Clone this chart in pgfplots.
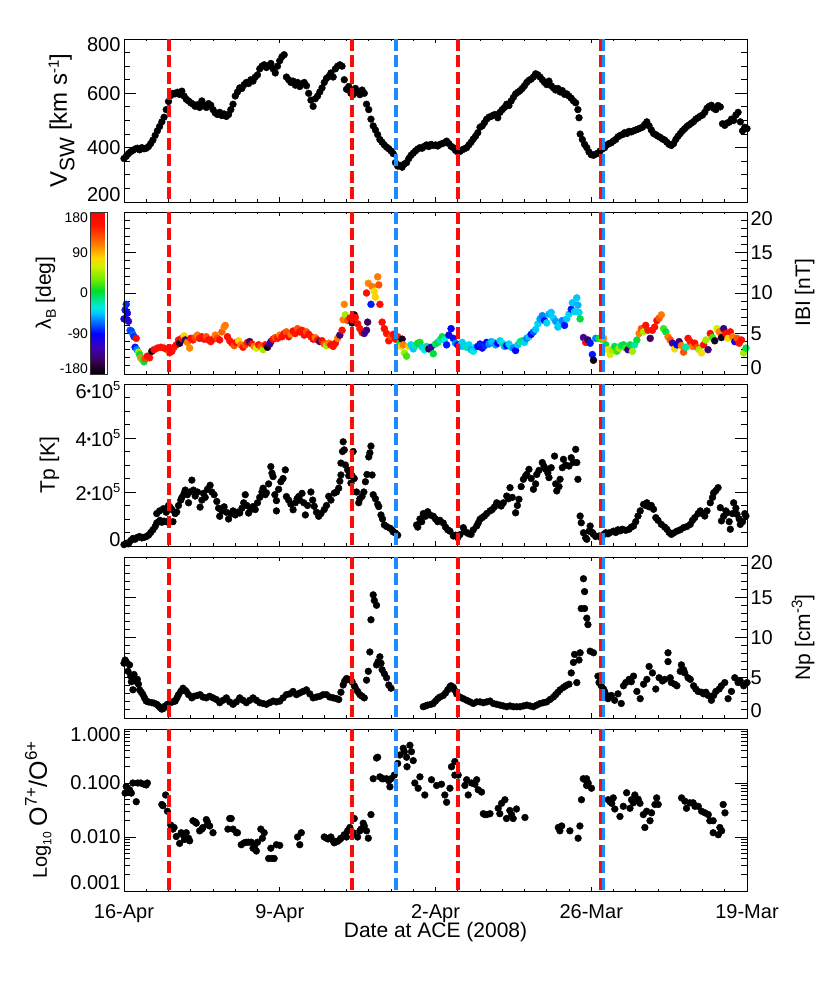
\documentclass[border=0pt]{standalone}
\usepackage{fontspec}
\setmainfont{Liberation Sans}
\usepackage{pgfplots}
\usepackage{pgfplotstable}
\pgfplotsset{compat=1.18}
\definecolor{vr}{RGB}{255,10,10}
\definecolor{vb}{RGB}{25,140,255}
\newcommand{\up}[2]{\raisebox{#1}[\height][\depth]{#2}}
\newcommand{\fs}[1]{\fontsize{#1}{#1}\selectfont}
\newcommand{\sx}[3]{\raisebox{#1}{\fs{#2}#3}}
\newcommand{\tpl}[1]{#1\raisebox{3pt}{\fs{12}•}10\sx{8pt}{13}{5}}

\pgfplotstableread{
d v
0.0 360
0.1 368
0.2 378
0.3 385
0.4 390
0.5 395
0.6 398
0.7 392
0.8 400
0.9 396
1.0 398
1.1 404
1.2 415
1.3 428
1.4 445
1.5 462
1.6 478
1.7 495
1.8 512
1.9 540
2.0 570
2.1 592
2.2 600
2.3 598
2.4 604
2.5 596
2.6 608
2.7 590
2.8 578
2.9 572
3.0 565
3.1 560
3.2 552
3.3 558
3.4 548
3.5 572
3.6 556
3.7 548
3.8 562
3.9 556
4.0 540
4.1 528
4.2 522
4.3 530
4.4 518
4.5 524
4.6 515
4.7 522
4.8 540
4.9 560
5.0 590
5.1 605
5.2 620
5.3 618
5.4 632
5.5 640
5.6 636
5.7 650
5.8 645
5.9 660
6.0 668
6.1 690
6.2 700
6.3 705
6.4 695
6.5 702
6.6 710
6.7 690
6.8 675
6.9 700
7.0 720
7.1 735
7.2 742
7.3 660
7.4 650
7.5 640
7.6 645
7.7 630
7.8 640
7.9 625
8.0 635
8.1 640
8.2 628
8.3 600
8.4 575
8.5 552
8.6 580
8.7 590
8.8 605
8.9 620
9.0 640
9.1 655
9.2 662
9.3 675
9.4 660
9.5 690
9.6 700
9.7 705
9.8 700
9.9 650
10.0 615
10.1 625
10.2 600
10.3 595
10.4 618
10.5 605
10.6 595
10.7 612
10.8 600
10.9 560
11.0 540
11.1 505
11.2 480
11.3 465
11.4 448
11.5 430
11.6 420
11.7 410
11.8 402
11.9 396
12.0 388
12.1 378
12.2 345
12.3 332
12.4 335
12.5 328
12.6 340
12.7 345
12.8 360
12.9 372
13.0 380
13.1 388
13.2 395
13.3 400
13.4 398
13.5 405
13.6 410
13.7 404
13.8 412
13.9 408
14.0 410
14.1 406
14.2 412
14.3 415
14.4 418
14.5 424
14.6 415
14.7 405
14.8 400
14.9 390
15.0 384
15.1 386
15.2 392
15.3 396
15.4 400
15.5 410
15.6 420
15.7 432
15.8 442
15.9 455
16.0 475
16.1 480
16.2 492
16.3 505
16.4 512
16.5 515
16.6 520
16.7 522
16.8 510
16.9 530
17.0 540
17.1 548
17.2 560
17.3 555
17.4 572
17.5 585
17.6 598
17.7 604
17.8 610
17.9 618
18.0 628
18.1 640
18.2 648
18.3 652
18.4 660
18.5 672
18.6 668
18.7 660
18.8 650
18.9 640
19.0 632
19.1 645
19.2 628
19.3 620
19.4 612
19.5 618
19.6 605
19.7 610
19.8 596
19.9 598
20.0 590
20.1 582
20.2 572
20.3 565
20.4 540
20.45 510
20.5 450
20.6 430
20.7 412
20.8 400
20.9 384
21.0 374
21.1 372
21.2 376
21.3 380
21.4 388
21.5 395
21.6 400
21.7 410
21.8 415
21.9 418
22.0 425
22.1 430
22.2 440
22.3 445
22.4 448
22.5 455
22.6 452
22.7 460
22.8 458
22.9 462
23.0 465
23.1 468
23.2 472
23.3 475
23.4 485
23.5 495
23.6 480
23.7 465
23.8 452
23.9 448
24.0 442
24.1 438
24.2 432
24.3 428
24.4 420
24.5 412
24.6 408
24.7 415
24.8 430
24.9 442
25.0 452
25.1 462
25.2 470
25.3 478
25.4 484
25.5 490
25.6 496
25.7 505
25.8 510
25.9 516
26.0 520
26.1 530
26.2 545
26.3 552
26.4 556
26.5 545
26.6 540
26.7 555
26.8 550
26.9 488
27.0 482
27.1 490
27.2 494
27.3 505
27.4 500
27.5 520
27.6 530
27.7 495
27.8 462
27.9 475
28.0 470
}\tvsw

\pgfplotstableread{
d b l
0.0 6.8 -100
0.05 7.9 -85
0.1 8.6 -80
0.15 7.5 -95
0.2 6.5 -110
0.27 5.4 -70
0.33 5.3 -75
0.4 4.9 -65
0.45 4.6 -80
0.55 4.4 160
0.5 3.3 -85
0.58 3.0 -60
0.65 2.7 45
0.7 2.4 0
0.75 2.0 105
0.82 1.8 20
0.9 1.5 0
0.95 1.9 130
1.05 2.2 160
1.15 2.0 150
1.25 2.8 -170
1.35 3.0 160
1.5 3.2 155
1.65 3.3 160
1.8 3.2 150
1.95 3.0 160
2.05 2.6 120
2.15 2.8 160
2.25 3.3 150
2.35 3.6 165
2.45 4.2 160
2.5 3.8 -170
2.6 4.4 150
2.7 4.7 80
2.75 4.2 -140
2.85 3.9 110
2.95 3.2 105
3.0 4.4 160
3.1 4.2 150
3.2 4.5 130
3.3 4.8 110
3.4 4.4 160
3.5 4.6 150
3.6 4.3 160
3.7 4.6 125
3.8 4.2 160
3.9 4.0 150
4.0 4.3 160
4.1 4.8 110
4.2 4.4 130
4.3 4.2 160
4.4 5.2 120
4.5 5.8 105
4.55 6.0 110
4.65 4.6 160
4.75 4.1 150
4.85 3.8 160
4.95 3.5 125
5.05 3.9 160
5.15 4.1 80
5.25 3.6 110
5.35 3.3 150
5.45 3.6 125
5.55 3.9 160
5.65 4.0 -150
5.75 3.7 160
5.85 3.4 110
5.95 3.2 60
6.05 3.6 160
6.15 3.4 125
6.25 3.0 45
6.35 3.6 160
6.45 3.3 -170
6.55 3.7 -140
6.6 4.0 -130
6.7 4.3 160
6.8 4.5 125
6.9 4.4 150
7.0 4.8 110
7.1 4.6 160
7.2 5.0 150
7.3 5.2 125
7.4 4.6 160
7.5 4.9 110
7.6 5.3 160
7.7 5.0 150
7.8 5.6 125
7.9 5.2 160
8.0 5.4 150
8.1 4.8 160
8.2 5.2 125
8.3 4.9 160
8.4 4.6 150
8.5 4.3 160
8.6 4.5 110
8.7 4.2 160
8.8 4.0 -150
8.9 4.1 160
9.0 3.7 125
9.1 3.5 45
9.2 3.8 110
9.3 3.6 160
9.4 3.4 150
9.5 3.8 160
9.6 4.4 110
9.7 4.8 -140
9.8 5.4 160
9.85 6.7 110
9.9 8.6 105
9.95 7.3 45
10.05 6.6 125
10.15 6.9 160
10.25 6.3 -170
10.35 7.3 -170
10.4 7.0 160
10.5 6.2 160
10.6 5.6 150
10.7 5.1 160
10.8 5.0 -130
10.9 5.4 -140
10.95 6.4 -150
10.9 10.0 160
10.98 11.2 105
11.1 8.6 -85
11.15 10.8 110
11.25 10.2 75
11.3 9.5 80
11.4 12.0 110
11.45 11.0 125
11.5 8.6 160
11.6 6.4 160
11.7 5.6 160
11.8 5.0 150
11.9 4.1 160
12.0 4.6 125
12.1 4.9 160
12.2 4.3 160
12.3 4.6 150
12.4 3.8 0
12.45 3.4 75
12.5 4.3 -170
12.55 3.6 110
12.6 2.6 45
12.7 2.2 20
12.8 3.4 80
12.9 3.6 -40
13.0 3.1 -45
13.1 3.5 -20
13.2 3.8 0
13.3 3.9 10
13.4 3.3 -40
13.5 3.0 -30
13.6 3.4 -15
13.7 3.1 -150
13.8 3.3 -130
13.9 2.5 0
14.0 3.7 -10
14.1 3.9 0
14.2 4.2 -20
14.3 4.6 0
14.4 4.2 -30
14.5 3.6 -85
14.6 4.8 -100
14.7 5.6 -90
14.8 4.4 -85
14.9 3.8 -60
15.0 3.6 -85
15.1 3.4 -50
15.2 3.9 -40
15.3 3.4 -45
15.4 3.3 -20
15.5 3.6 -40
15.6 3.0 -50
15.7 2.8 -30
15.8 3.3 -45
15.9 3.4 -90
16.0 3.7 -85
16.1 3.2 -100
16.2 3.5 -80
16.3 3.9 -90
16.4 3.7 -60
16.5 4.0 -50
16.6 3.9 -45
16.7 3.6 -55
16.8 3.8 -90
16.9 4.1 -40
17.0 3.8 -30
17.1 3.4 -50
17.2 3.5 -90
17.3 3.7 -40
17.4 3.3 -35
17.5 3.2 -60
17.6 2.9 -90
17.7 3.6 -45
17.8 4.0 -20
17.9 4.1 -10
18.0 3.9 -40
18.1 4.4 -60
18.2 4.6 -45
18.3 4.9 -90
18.4 5.2 -70
18.5 5.5 -45
18.6 6.2 -40
18.7 6.8 -55
18.8 7.2 -60
18.9 6.6 -85
19.0 6.3 -40
19.1 7.4 -50
19.2 7.6 -45
19.3 6.9 -40
19.4 6.5 -55
19.5 5.8 -45
19.6 6.2 -40
19.7 6.6 -60
19.8 6.0 -85
19.9 6.8 -45
20.0 7.4 -40
20.1 8.0 -85
20.15 8.8 -45
20.25 7.7 -40
20.35 9.4 -45
20.4 8.5 -50
20.45 7.6 -40
20.5 6.8 0
20.65 4.5 -130
20.75 3.9 160
20.85 4.2 -150
20.95 3.8 -85
21.05 2.4 -85
21.1 1.7 -175
21.2 4.4 -60
21.35 4.4 0
21.45 4.3 20
21.55 4.4 105
21.65 3.6 0
21.75 3.0 75
21.85 2.4 60
21.95 3.0 45
22.05 3.4 0
22.15 2.8 20
22.25 3.2 45
22.35 3.5 -10
22.45 3.6 0
22.55 3.2 20
22.65 3.0 -140
22.75 3.6 0
22.85 2.8 45
22.95 3.6 -20
23.05 4.2 0
23.15 5.0 110
23.25 5.6 125
23.35 5.2 45
23.45 6.0 160
23.55 5.4 150
23.65 4.4 -150
23.75 5.4 160
23.85 5.8 150
23.95 6.6 160
24.05 6.9 125
24.15 7.3 110
24.25 5.6 20
24.35 5.2 0
24.45 4.6 110
24.55 4.2 125
24.65 3.8 -130
24.75 3.1 75
24.85 3.6 -90
24.95 4.0 -140
25.05 3.5 110
25.15 2.7 125
25.25 3.3 -20
25.35 4.4 160
25.45 4.0 150
25.55 3.4 110
25.65 3.8 160
25.75 3.3 125
25.85 3.0 45
25.95 2.6 75
26.05 3.6 160
26.15 4.2 45
26.25 3.0 -140
26.35 5.0 160
26.45 4.5 20
26.55 4.1 -170
26.65 5.6 60
26.75 5.2 110
26.85 4.5 -170
26.95 5.6 -140
27.05 5.0 160
27.15 4.4 75
27.25 5.2 160
27.35 4.6 110
27.45 4.0 -100
27.55 4.4 125
27.65 3.8 150
27.75 4.2 160
27.85 2.6 45
27.95 3.2 0
}\tbmag

\pgfplotstableread{
d t
0.0 0.05
0.1 0.1
0.2 0.08
0.3 0.2
0.4 0.28
0.5 0.25
0.6 0.32
0.7 0.35
0.8 0.3
0.9 0.32
1.0 0.35
1.1 0.4
1.2 0.5
1.3 0.6
1.4 0.72
1.47 0.85
1.55 0.9
1.62 0.95
1.7 0.88
1.8 0.92
1.9 0.9
1.47 1.2
1.6 1.3
1.77 1.38
1.9 1.25
2.0 1.5
2.07 1.44
2.15 1.35
2.2 0.9
2.3 1.2
2.37 1.26
2.45 1.5
2.55 1.7
2.6 1.8
2.7 1.95
2.75 2.07
2.85 1.9
2.9 1.6
2.95 2.0
3.05 2.44
3.12 2.07
3.2 1.85
3.3 2.0
3.42 1.44
3.5 1.7
3.57 1.95
3.65 1.8
3.75 2.1
3.87 2.25
3.95 2.0
4.05 1.9
4.17 1.65
4.25 1.4
4.3 1.1
4.4 1.3
4.5 1.45
4.6 1.25
4.7 1.0
4.8 1.2
4.9 1.3
5.0 1.15
5.1 1.25
5.2 1.22
5.3 1.4
5.38 1.6
5.45 1.9
5.52 1.5
5.6 1.22
5.7 1.35
5.8 1.46
5.9 1.35
6.0 1.6
6.1 1.8
6.2 2.0
6.25 2.14
6.35 1.9
6.4 1.97
6.5 2.3
6.6 2.94
6.65 2.7
6.7 2.57
6.78 1.9
6.85 1.3
6.85 1.68
6.95 2.1
7.05 2.38
7.15 2.5
7.25 2.82
7.3 1.83
7.4 1.7
7.5 1.55
7.6 1.34
7.7 1.6
7.78 1.75
7.85 1.83
7.9 1.7
8.0 1.95
8.08 1.6
8.15 1.15
8.25 1.5
8.4 2.0
8.48 1.7
8.55 1.47
8.65 1.25
8.75 1.1
8.85 1.2
9.0 1.35
9.1 1.5
9.2 1.84
9.3 1.7
9.45 1.96
9.55 2.0
9.65 2.14
9.7 2.4
9.75 2.63
9.75 3.07
9.82 3.5
9.85 3.86
9.9 3.56
9.95 3.0
10.05 2.82
10.1 2.6
10.2 2.33
10.25 2.6
10.3 3.5
10.35 2.5
10.45 2.0
10.55 1.6
10.6 1.75
10.7 1.84
10.78 2.0
10.85 2.38
10.92 2.65
11.0 3.3
11.05 3.45
11.1 3.7
11.15 2.63
11.2 1.9
11.3 1.75
11.4 1.55
11.45 1.46
11.55 1.15
11.62 1.0
11.7 0.78
11.8 0.72
11.95 0.66
12.05 0.6
12.1 0.52
12.2 0.48
12.3 0.4
13.15 0.78
13.2 0.7
13.3 1.0
13.38 0.9
13.45 1.2
13.55 1.1
13.65 1.27
13.75 1.15
13.9 1.1
14.0 1.0
14.1 0.9
14.2 0.95
14.35 0.85
14.45 0.7
14.55 0.6
14.65 0.55
14.8 0.37
14.9 0.4
15.0 0.31
15.1 0.42
15.25 0.68
15.3 0.55
15.4 0.5
15.5 0.45
15.6 0.43
15.7 0.6
15.85 0.74
15.92 0.85
16.0 0.99
16.1 1.05
16.2 1.11
16.3 1.2
16.45 1.3
16.55 1.35
16.65 1.45
16.75 1.6
16.85 1.55
16.95 1.48
17.05 1.6
17.2 1.85
17.28 1.75
17.35 2.16
17.45 1.8
17.6 1.23
17.68 1.5
17.75 1.73
17.85 2.2
17.95 2.47
18.05 2.6
18.1 2.65
18.2 2.84
18.3 2.5
18.4 2.1
18.5 2.3
18.55 2.65
18.65 2.8
18.8 3.09
18.88 2.95
18.95 2.84
19.05 2.7
19.1 2.53
19.2 2.9
19.35 3.33
19.4 2.3
19.45 2.04
19.55 2.2
19.6 2.47
19.7 2.9
19.75 3.21
19.85 3.0
20.0 2.96
20.1 3.27
20.2 3.1
20.3 3.58
20.35 3.09
20.4 2.47
20.5 1.11
20.55 0.86
20.65 0.49
20.75 0.3
20.8 0.25
20.9 0.55
20.95 0.74
21.05 0.5
21.1 0.43
21.2 0.35
21.35 0.37
21.45 0.3
21.55 0.42
21.65 0.49
21.75 0.45
21.85 0.5
22.0 0.55
22.1 0.5
22.2 0.6
22.3 0.56
22.4 0.62
22.55 0.58
22.7 0.62
22.8 0.7
22.9 0.74
23.0 0.9
23.1 1.11
23.2 1.3
23.35 1.54
23.45 1.5
23.5 1.6
23.6 1.45
23.7 1.5
23.8 1.36
23.9 1.05
24.0 0.95
24.15 0.8
24.3 0.7
24.4 0.62
24.5 0.5
24.6 0.43
24.7 0.48
24.85 0.55
25.0 0.6
25.15 0.68
25.3 0.72
25.45 0.8
25.55 0.95
25.65 1.05
25.8 1.2
25.9 1.3
26.0 1.2
26.1 1.11
26.2 1.3
26.35 1.6
26.45 1.8
26.5 1.97
26.6 2.05
26.7 2.16
26.8 1.42
26.85 0.93
26.95 1.1
27.05 1.3
27.1 1.23
27.2 0.9
27.25 0.62
27.35 1.2
27.4 1.6
27.5 1.4
27.55 1.17
27.65 1.0
27.7 0.8
27.8 0.9
27.9 1.2
27.95 1.11
}\ttp

\pgfplotstableread{
d n
0.0 6.8
0.05 7.2
0.1 7.0
0.18 5.8
0.25 6.6
0.3 5.2
0.33 4.5
0.4 3.5
0.45 5.4
0.5 4.6
0.6 4.8
0.65 4.2
0.7 3.5
0.78 3.2
0.85 2.9
0.92 2.5
1.0 2.1
1.1 2.0
1.25 1.9
1.35 1.85
1.47 1.7
1.55 1.5
1.62 1.3
1.7 1.1
1.78 1.2
1.85 1.5
1.95 1.7
2.07 1.9
2.18 2.0
2.3 2.1
2.38 2.5
2.45 2.9
2.55 3.3
2.65 3.7
2.72 3.5
2.8 3.3
2.9 2.9
3.05 2.5
3.15 2.7
3.3 2.8
3.42 2.9
3.55 2.6
3.7 2.5
3.85 2.7
4.0 2.5
4.15 2.3
4.3 1.9
4.45 2.2
4.6 2.5
4.75 2.0
4.9 1.7
5.05 2.0
5.2 2.5
5.35 2.2
5.5 1.9
5.65 2.2
5.8 2.5
5.95 2.2
6.1 1.9
6.25 1.8
6.4 1.7
6.55 1.9
6.7 2.1
6.85 2.0
7.0 2.1
7.15 2.5
7.3 2.9
7.45 3.0
7.6 3.3
7.75 2.9
7.9 3.1
8.05 3.3
8.2 3.5
8.35 3.0
8.5 2.5
8.65 2.6
8.8 2.7
8.95 2.9
9.1 2.9
9.25 2.6
9.4 2.5
9.55 2.4
9.65 2.3
9.75 3.2
9.85 4.1
9.92 4.6
10.0 4.9
10.1 4.8
10.25 4.5
10.35 4.0
10.4 3.7
10.5 3.3
10.6 2.9
10.7 2.7
10.8 2.5
10.9 4.7
10.98 5.8
11.05 8.2
11.1 12.2
11.2 15.3
11.25 14.6
11.35 14.0
11.35 6.6
11.42 7.0
11.5 7.6
11.55 6.8
11.6 6.0
11.7 5.5
11.8 5.0
11.9 4.1
12.0 3.7
13.45 1.4
13.55 1.5
13.65 1.6
13.8 1.7
13.9 1.8
14.0 2.1
14.1 2.4
14.2 2.6
14.35 2.8
14.45 3.1
14.55 3.5
14.65 3.9
14.7 4.0
14.8 3.8
14.85 3.5
14.95 3.0
15.1 2.6
15.25 2.4
15.4 2.2
15.55 2.0
15.7 1.8
15.85 2.0
16.0 2.0
16.15 1.9
16.3 2.0
16.45 2.1
16.6 1.8
16.75 1.7
16.9 1.6
17.05 1.5
17.2 1.4
17.35 1.5
17.5 1.4
17.65 1.4
17.8 1.4
17.95 1.5
18.1 1.6
18.25 1.5
18.4 1.4
18.55 1.6
18.7 1.8
18.85 1.9
19.0 2.0
19.15 2.3
19.3 2.6
19.4 2.9
19.5 3.2
19.6 3.5
19.75 3.8
19.85 4.0
20.0 4.2
20.1 5.6
20.2 6.9
20.25 7.9
20.35 4.4
20.45 7.2
20.5 8.1
20.55 13.6
20.7 13.6
20.7 15.7
20.65 17.3
20.8 12.4
20.85 11.6
20.95 8.3
21.1 8.1
21.3 5.2
21.35 4.4
21.45 4.0
21.55 3.6
21.6 3.3
21.7 2.8
21.75 2.4
21.9 2.8
22.05 2.2
22.2 3.0
22.35 1.8
22.45 4.0
22.55 4.4
22.7 4.8
22.8 4.5
22.9 5.2
23.05 3.3
23.2 2.4
23.35 4.2
23.5 4.8
23.6 6.4
23.75 5.6
23.9 3.6
24.05 5.0
24.2 4.6
24.3 4.8
24.45 7.0
24.45 8.1
24.55 5.0
24.6 4.4
24.75 4.2
24.85 4.0
25.0 5.8
25.05 6.6
25.15 6.0
25.2 5.6
25.35 5.0
25.45 4.8
25.6 4.0
25.7 3.6
25.8 3.3
25.95 3.2
26.05 3.0
26.15 3.2
26.25 2.8
26.4 2.2
26.5 2.8
26.6 3.3
26.75 3.6
26.85 4.0
27.0 4.4
27.15 2.4
27.3 3.3
27.45 5.0
27.6 4.4
27.7 4.6
27.85 4.0
28.0 4.4
}\tnp

\pgfplotstableread{
d r
0.05 0.065
0.1 0.086
0.2 0.07
0.25 0.075
0.33 0.065
0.4 0.1
0.55 0.045
0.62 0.1
0.75 0.1
0.9 0.095
1.0 0.092
1.05 0.1
1.7 0.04
1.75 0.038
1.87 0.06
1.95 0.03
2.1 0.0166
2.2 0.014
2.25 0.015
2.35 0.0102
2.5 0.0076
2.57 0.012
2.65 0.011
2.72 0.009
2.8 0.012
2.9 0.0095
2.95 0.0085
3.1 0.02
3.2 0.019
3.25 0.018
3.4 0.013
3.5 0.014
3.55 0.015
3.7 0.021
3.75 0.019
3.77 0.017
3.85 0.016
4.0 0.012
4.67 0.014
4.75 0.022
4.82 0.022
4.9 0.014
5.05 0.012
5.1 0.012
5.27 0.0072
5.4 0.0078
5.5 0.008
5.6 0.008
5.72 0.008
5.8 0.0062
5.87 0.0068
5.95 0.0055
6.0 0.008
6.15 0.014
6.22 0.0095
6.3 0.012
6.5 0.004
6.6 0.0062
6.65 0.004
6.75 0.004
6.85 0.0072
7.0 0.007
7.8 0.01
7.9 0.0072
7.97 0.012
9.0 0.01
9.1 0.0095
9.17 0.0092
9.3 0.01
9.4 0.0085
9.45 0.0078
9.6 0.0083
9.7 0.009
9.75 0.0095
9.9 0.011
10.0 0.01
10.05 0.013
10.15 0.015
10.3 0.012
10.35 0.022
10.5 0.01
10.6 0.013
10.65 0.014
10.75 0.018
10.8 0.016
10.9 0.013
10.98 0.0095
11.1 0.026
11.2 0.12
11.35 0.29
11.4 0.3
11.5 0.13
11.6 0.12
11.65 0.12
11.8 0.12
11.9 0.11
11.95 0.085
12.0 0.12
12.15 0.14
12.3 0.23
12.4 0.33
12.55 0.44
12.6 0.38
12.7 0.3
12.72 0.2
12.85 0.5
12.92 0.38
13.0 0.26
13.07 0.1
13.22 0.08
13.3 0.13
13.52 0.06
13.82 0.115
14.05 0.09
14.27 0.095
14.42 0.06
14.5 0.044
14.65 0.08
14.72 0.2
14.87 0.25
14.87 0.14
15.02 0.14
15.32 0.09
15.4 0.115
15.47 0.06
15.62 0.1
15.77 0.095
15.85 0.115
15.92 0.075
16.07 0.068
16.15 0.027
16.22 0.026
16.3 0.026
16.45 0.027
16.82 0.034
16.89 0.027
16.97 0.042
17.12 0.049
17.19 0.022
17.34 0.031
17.42 0.026
17.49 0.022
17.64 0.033
18.02 0.023
19.52 0.015
19.59 0.013
19.67 0.016
20.04 0.013
20.41 0.0095
20.49 0.016
20.56 0.049
20.64 0.12
20.72 0.115
20.79 0.12
20.79 0.09
20.86 0.1
21.01 0.08
21.76 0.049
21.84 0.045
21.92 0.042
21.99 0.053
22.06 0.033
22.29 0.024
22.44 0.037
22.59 0.066
22.74 0.034
22.81 0.049
22.89 0.043
22.96 0.06
23.11 0.05
23.19 0.042
23.34 0.026
23.41 0.015
23.49 0.03
23.64 0.02
23.71 0.028
23.86 0.04
23.94 0.053
24.01 0.04
25.06 0.053
25.21 0.046
25.28 0.034
25.43 0.043
25.58 0.043
25.66 0.037
25.81 0.037
25.96 0.03
26.11 0.028
26.26 0.026
26.33 0.02
26.48 0.02
26.48 0.012
26.71 0.011
26.78 0.015
26.86 0.013
26.93 0.04
27.01 0.028
}\tox

\pgfplotsset{
  common/.style={scale only axis, width=623pt, xmin=0, xmax=28,
    anchor=south west,
    axis line style={line width=0.9pt},
    tick style={black, line width=0.9pt},
    tick align=inside,
    tick label style={font=\fs{20}},
    label style={font=\fs{21}}},
  yax/.style={common, xtick=\empty, major tick length=12pt, minor tick length=6pt},
  xax/.style={common, ytick=\empty, xtick={0,7,14,21,28}, minor x tick num=6,
    major tick length=4.5pt, minor tick length=2.5pt, xticklabel=\empty},
  dots/.style={only marks, mark=*, mark size=3.4pt, mark options={fill=black, draw=black}},
  vred/.style={vr, line width=3.5pt, dash pattern=on 12pt off 4.5pt},
  vblue/.style={vb, line width=3.5pt, dash pattern=on 12pt off 4.5pt},
  lyl/.style={ylabel style={at={(rel axis cs:0,0.5)}, yshift=#1, anchor=base}},
  ryl/.style={ylabel style={at={(rel axis cs:1,0.5)}, yshift=#1, anchor=base}},
}
\newcommand{\vlines}[2]{%
  \addplot[vred] coordinates {(2.02,#2) (2.02,#1)};
  \addplot[vred] coordinates {(10.25,#2) (10.25,#1)};
  \addplot[vblue] coordinates {(12.22,#2) (12.22,#1)};
  \addplot[vred] coordinates {(15.01,#2) (15.01,#1)};
  \addplot[vblue] coordinates {(21.53,#2) (21.53,#1)};
  \addplot[vred] coordinates {(21.41,#2) (21.41,#1)};
}

\begin{document}
\begin{tikzpicture}
\path[use as bounding box] (0,0) rectangle (830pt,990pt);

% ---------- Panel 1 : V_SW
\begin{axis}[yax, at={(124pt,788pt)}, height=163pt,
  ymin=200, ymax=800, ytick={200,400,600,800}, minor y tick num=3,
  yticklabels={\up{7.5pt}{200},400,600,\up{-6pt}{800}},
  ylabel={\fs{24}V\raisebox{-7.5pt}{\fs{21}SW} [km s\sx{8pt}{15}{-1}]}, lyl=57pt]
\addplot[dots] table[x=d,y=v] {\tvsw};
\end{axis}
\begin{axis}[xax, at={(124pt,788pt)}, height=163pt, ymin=200, ymax=800]
\vlines{200}{800}
\end{axis}

% ---------- Panel 2 : |B| coloured by lambda_B
\begin{axis}[yax, at={(124pt,616pt)}, height=162pt,
  ymin=-180, ymax=180, ytick={-180,-90,0,90,180}, minor y tick num=4,
  ytick pos=left, yticklabel=\empty,
  ylabel={λ\raisebox{-5pt}{\fs{14}B} [deg]}, lyl=73pt]
\end{axis}
\begin{axis}[yax, at={(124pt,616pt)}, height=162pt,
  ymin=0, ymax=20, ytick={0,5,10,15,20}, minor y tick num=4,
  ytick pos=right, yticklabel pos=right,
  yticklabels={\up{6pt}{0},5,10,15,\up{-7pt}{20}},
  ylabel={IBI [nT]}, ryl=-63pt,
  colormap={idl}{rgb255(0pt)=(0,0,0); rgb255(30pt)=(60,0,90); rgb255(60pt)=(60,0,190);
    rgb255(90pt)=(0,0,255); rgb255(115pt)=(0,110,255); rgb255(135pt)=(0,200,255);
    rgb255(150pt)=(0,235,220); rgb255(165pt)=(0,230,140); rgb255(185pt)=(0,220,40);
    rgb255(210pt)=(110,235,0); rgb255(240pt)=(210,240,0); rgb255(258pt)=(255,215,0);
    rgb255(280pt)=(255,150,0); rgb255(305pt)=(255,80,0); rgb255(330pt)=(255,20,0);
    rgb255(360pt)=(255,0,0)},
  point meta min=-180, point meta max=180,
  colorbar,
  colorbar style={at={(parent axis.south west)}, anchor=south east, xshift=-25pt,
    scale only axis, width=17pt, height=162pt,
    ytick={-180,-90,0,90,180},
    yticklabels={\up{5pt}{-180},-90,0,90,\up{-6pt}{180}},
    yticklabel pos=left, ytick pos=left,
    major tick length=0pt, ytick style={draw=none},
    yticklabel style={font=\fs{14}, xshift=1pt},
    axis line style={line width=0.6pt, black!80}}]
\addplot[scatter, only marks, mark=*, mark size=3.5pt, scatter src=explicit,
  scatter/use mapped color={draw=mapped color, fill=mapped color}]
  table[x=d, y=b, meta=l] {\tbmag};
\end{axis}
\begin{axis}[xax, at={(124pt,616pt)}, height=162pt, ymin=0, ymax=20]
\vlines{0}{20}
\end{axis}

% ---------- Panel 3 : Tp
\begin{axis}[yax, at={(124pt,444pt)}, height=162pt,
  ymin=0, ymax=6, ytick={0,2,4,6}, minor y tick num=3,
  yticklabels={\up{6pt}{0},\tpl{2},\tpl{4},\up{-6pt}{\tpl{6}}},
  ylabel={Tp [K]}, lyl=69pt]
\addplot[dots] table[x=d,y=t] {\ttp};
\end{axis}
\begin{axis}[xax, at={(124pt,444pt)}, height=162pt, ymin=0, ymax=6]
\vlines{0}{6}
\end{axis}

% ---------- Panel 4 : Np
\begin{axis}[yax, at={(124pt,272pt)}, height=161pt,
  ymin=0, ymax=20, ytick={0,5,10,15,20}, minor y tick num=4,
  yticklabel pos=right,
  yticklabels={\up{7pt}{0},5,10,15,\up{-6pt}{20}},
  ylabel={Np [cm\sx{8pt}{15}{-3}]}, ryl=-63pt]
\addplot[dots] table[x=d,y=n] {\tnp};
\end{axis}
\begin{axis}[xax, at={(124pt,272pt)}, height=161pt, ymin=0, ymax=20]
\vlines{0}{20}
\end{axis}

% ---------- Panel 5 : O7+/O6+
\begin{axis}[yax, at={(124pt,99pt)}, height=162pt,
  ymode=log, ymin=0.001, ymax=1, ytick={0.001,0.01,0.1,1},
  minor ytick={0.002,0.003,0.004,0.005,0.006,0.007,0.008,0.009,
    0.02,0.03,0.04,0.05,0.06,0.07,0.08,0.09,0.2,0.3,0.4,0.5,0.6,0.7,0.8,0.9},
  yticklabels={\up{8pt}{0.001},0.010,0.100,\up{-6pt}{1.000}},
  ylabel={{\fs{20}Log\raisebox{-4.5pt}{\fs{12}10}} {\fs{25}O\sx{10pt}{17}{7+}/O\sx{10pt}{17}{6+}}},
  lyl=77pt]
\addplot[dots] table[x=d,y=r] {\tox};
\end{axis}
\begin{axis}[xax, at={(124pt,99pt)}, height=162pt,
  ymode=log, ymin=0.001, ymax=1,
  xticklabels={16-Apr,9-Apr,2-Apr,26-Mar,19-Mar},
  xticklabel style={anchor=base, yshift=-27pt},
  xlabel={Date at ACE (2008)},
  xlabel style={at={(rel axis cs:0.5,0)}, anchor=base, yshift=-46pt}]
\vlines{0.001}{1}
\end{axis}
\end{tikzpicture}
\end{document}
